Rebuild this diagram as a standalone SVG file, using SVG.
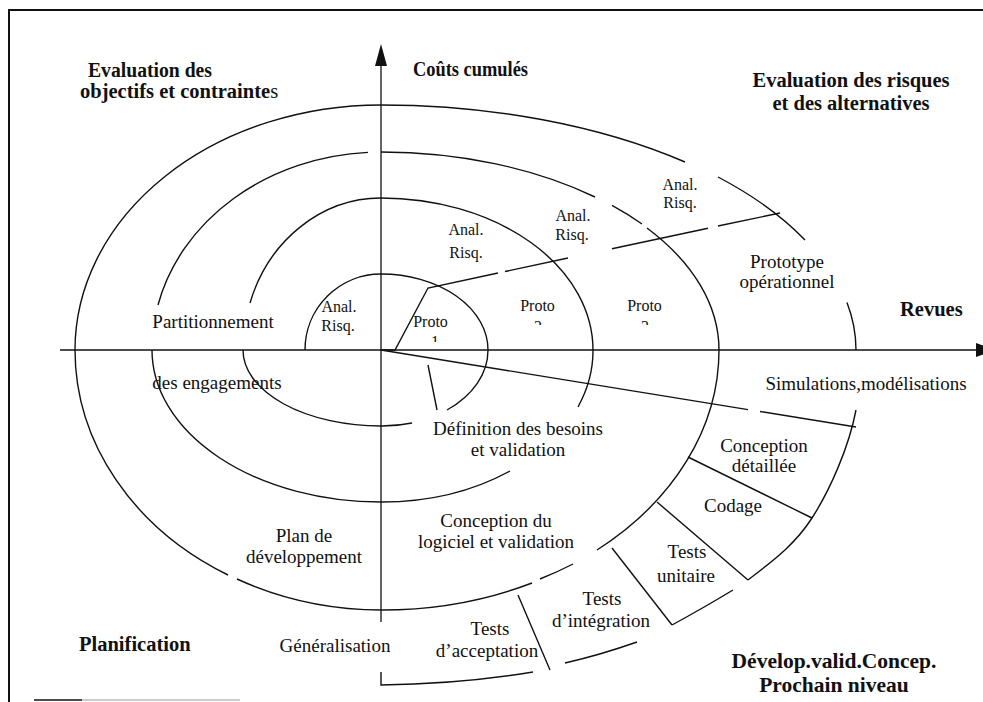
<svg xmlns="http://www.w3.org/2000/svg" width="983" height="702" viewBox="0 0 983 702">
<style>
.ln{fill:none;stroke:#111;stroke-width:1.4;stroke-linecap:butt}
.ax{fill:none;stroke:#111;stroke-width:1.3}
.t{font-family:"Liberation Serif","Times New Roman",serif;font-size:19px;fill:#111}
.s{font-family:"Liberation Serif","Times New Roman",serif;font-size:16px;fill:#111}
.b{font-family:"Liberation Serif","Times New Roman",serif;font-size:20.5px;font-weight:bold;fill:#111}
.m{text-anchor:middle}
</style>
<defs>
<clipPath id="c1"><rect x="420" y="300" width="30" height="42"/></clipPath>
<clipPath id="c2"><rect x="525" y="290" width="30" height="35"/></clipPath>
<clipPath id="c3"><rect x="632" y="290" width="30" height="35"/></clipPath>
</defs>
<rect x="0" y="0" width="983" height="702" fill="#fff"/>
<g id="frame">
<line x1="9" y1="10" x2="983" y2="10" stroke="#111" stroke-width="2"/>
<line x1="9" y1="9" x2="9" y2="702" stroke="#111" stroke-width="2"/>
<line x1="34" y1="700" x2="82" y2="700" stroke="#111" stroke-width="1.5"/>
<line x1="82" y1="700" x2="240" y2="700" stroke="#999" stroke-width="1.2"/>
</g>
<g id="axes">
<line class="ax" x1="381" y1="60" x2="381" y2="622"/>
<polygon points="381,44 375,66 387,66" fill="#111"/>
<line class="ax" x1="60" y1="350" x2="978" y2="350"/>
<polygon points="976,343 976,357 995,350" fill="#111"/>
</g>
<g id="spiral">
<path class="ln" d="M305,350 A76,76 0 0 1 381,274 A107,76 0 0 1 488,350 A107,76 0 0 1 447,410"/>
<path class="ln" d="M412,423 A107,76 0 0 1 381,426 A138,76 0 0 1 243,350"/>
<path class="ln" d="M250,303 A138,152 0 0 1 381,198 A212,152 0 0 1 593,350 A212,152 0 0 1 578,407"/>
<path class="ln" d="M510,471 A212,152 0 0 1 381,502 A229,152 0 0 1 152,350"/>
<path class="ln" d="M158,305 A229,198 0 0 1 368,152.4"/>
<path class="ln" d="M381,152 A338,198 0 0 1 595,197"/>
<path class="ln" d="M612,205.4 A338,198 0 0 1 642,224"/>
<path class="ln" d="M647,228 A338,198 0 0 1 719,350 A338,260 0 0 1 597,550"/>
<path class="ln" d="M573,564 A338,260 0 0 1 540,579"/>
<path class="ln" d="M532,583 A338,260 0 0 1 381,610 A306,260 0 0 1 237,579"/>
<path class="ln" d="M228,575 A306,260 0 0 1 75,350 A306,245 0 0 1 381,105 A475,245 0 0 1 685,162"/>
<path class="ln" d="M718,177 A475,245 0 0 1 805,240"/>
<path class="ln" d="M847,302.5 A475,245 0 0 1 856,350"/>
<path class="ln" d="M856,410 C849,447 830,490 812,518 C794,546 771,562 748,580"/>
<path class="ln" d="M733,590 Q705,607 672,625"/>
<path class="ln" d="M637,642 Q600,655 565,663"/>
<path class="ln" d="M381,672 L381,685 Q460,684 533,672"/>
</g>
<g id="dividers">
<polyline class="ln" points="381,350 395,350 428,288 498,273"/>
<line class="ln" x1="505" y1="271.5" x2="568" y2="258"/>
<line class="ln" x1="612" y1="248.7" x2="708" y2="228.2"/>
<line class="ln" x1="718" y1="226" x2="780" y2="213"/>
<line class="ln" x1="381" y1="350" x2="748" y2="409.6"/>
<line class="ln" x1="760" y1="411.5" x2="856" y2="427"/>
<line class="ln" x1="428" y1="365" x2="437" y2="410"/>
<line class="ln" x1="688" y1="457" x2="812" y2="518"/>
<line class="ln" x1="657" y1="502" x2="748" y2="580"/>
<line class="ln" x1="612" y1="548" x2="672" y2="625"/>
<line class="ln" x1="518" y1="595" x2="550" y2="670"/>
</g>
<g id="quadrant-labels">
<text class="b" x="88" y="77" textLength="124" lengthAdjust="spacingAndGlyphs">Evaluation des</text>
<text class="b" x="80" y="98">objectifs et contrainte<tspan font-weight="normal">s</tspan></text>
<text class="b" x="413" y="76" textLength="115" lengthAdjust="spacingAndGlyphs">Coûts cumulés</text>
<text class="b m" x="851" y="87">Evaluation des risques</text>
<text class="b m" x="851" y="110">et des alternatives</text>
<text class="b" x="900" y="316">Revues</text>
<text class="b" x="79" y="651">Planification</text>
<text class="b m" x="834" y="668" style="font-size:21.5px">Dévelop.valid.Concep.</text>
<text class="b m" x="834" y="692" style="font-size:21.5px">Prochain niveau</text>
</g>
<g id="risk-labels">
<text class="s m" x="339" y="312">Anal.</text>
<text class="s m" x="338" y="331">Risq.</text>
<text class="s m" x="466" y="235">Anal.</text>
<text class="s m" x="466" y="258">Risq.</text>
<text class="s m" x="573" y="221">Anal.</text>
<text class="s m" x="572" y="240">Risq.</text>
<text class="s m" x="680" y="190">Anal.</text>
<text class="s m" x="680" y="208">Risq.</text>
</g>
<g id="proto-labels">
<text class="s m" x="430.5" y="327">Proto</text>
<text class="s m" x="435" y="347" clip-path="url(#c1)">1</text>
<text class="s m" x="537.5" y="311">Proto</text>
<text class="s m" x="538" y="332" clip-path="url(#c2)">2</text>
<text class="s m" x="644.5" y="311">Proto</text>
<text class="s m" x="645" y="332" clip-path="url(#c3)">3</text>
<text class="t m" x="787" y="268">Prototype</text>
<text class="t m" x="787" y="288">opérationnel</text>
</g>
<g id="phase-labels">
<text class="t m" x="213" y="328">Partitionnement</text>
<text class="t m" x="217" y="389">des engagements</text>
<text class="t m" x="518" y="435">Définition des besoins</text>
<text class="t m" x="518" y="456">et validation</text>
<text class="t m" x="496" y="527">Conception du</text>
<text class="t m" x="496" y="548">logiciel et validation</text>
<text class="t m" x="304" y="542">Plan de</text>
<text class="t m" x="304" y="563">développement</text>
<text class="t m" x="335" y="652">Généralisation</text>
<text class="t m" x="866" y="390">Simulations,modélisations</text>
<text class="t m" x="764" y="452">Conception</text>
<text class="t m" x="764" y="472">détaillée</text>
<text class="t m" x="733" y="512">Codage</text>
<text class="t m" x="687" y="558">Tests</text>
<text class="t m" x="686" y="582">unitaire</text>
<text class="t m" x="602" y="605">Tests</text>
<text class="t m" x="601" y="627">d’intégration</text>
<text class="t m" x="490" y="635">Tests</text>
<text class="t m" x="487" y="657">d’acceptation</text>
</g>
</svg>
